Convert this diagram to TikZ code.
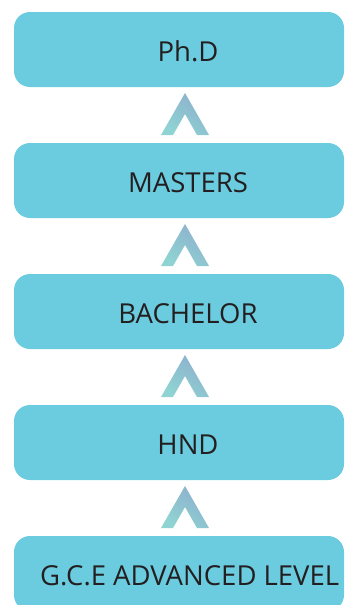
\documentclass[tikz,border=0pt]{standalone}
\usepackage{fontspec}
\setmainfont{Open Sans}
\definecolor{boxfill}{HTML}{6BCCDF}
\definecolor{txt}{HTML}{231F20}
\definecolor{arrtop}{HTML}{8DB0CE}
\definecolor{arrbot}{HTML}{8FD4D2}
\begin{document}
\begin{tikzpicture}[x=1pt,y=-1pt,
  box/.style={fill=boxfill,draw=none,rounded corners=16pt,minimum width=330pt,minimum height=75pt,inner sep=0pt,outer sep=0pt},
  lbl/.style={font=\fontsize{27.5}{30}\selectfont,text=txt,inner sep=0pt,anchor=base},
  chev/.style={top color=arrtop,bottom color=arrbot,shading angle=-35,draw=none}]
\useasboundingbox (0,0) rectangle (347,605);
\clip (0,0) rectangle (347,605);
\node[box] (b1) at (179,49.5) {};
\node[box] (b2) at (179,180.5) {};
\node[box] (b3) at (179,311.5) {};
\node[box] (b4) at (179,442.5) {};
\node[box] (b5) at (179,573.5) {};
\node[lbl] (t1) at (188,61) {Ph.D};
\node[lbl] (t2) at (188,192) {MASTERS};
\node[lbl] (t3) at (188,323) {BACHELOR};
\node[lbl] (t4) at (188,454) {HND};
\node[lbl,anchor=base west] (t5) at (40,585) {G.C.E ADVANCED LEVEL};
\foreach \y in {93,224,355,486}{
  \shade[chev] (161,\y+42) -- (185,\y) -- (209,\y+42) -- (197,\y+42) -- (185,\y+21) -- (173,\y+42) -- cycle;
}
\end{tikzpicture}
\end{document}
